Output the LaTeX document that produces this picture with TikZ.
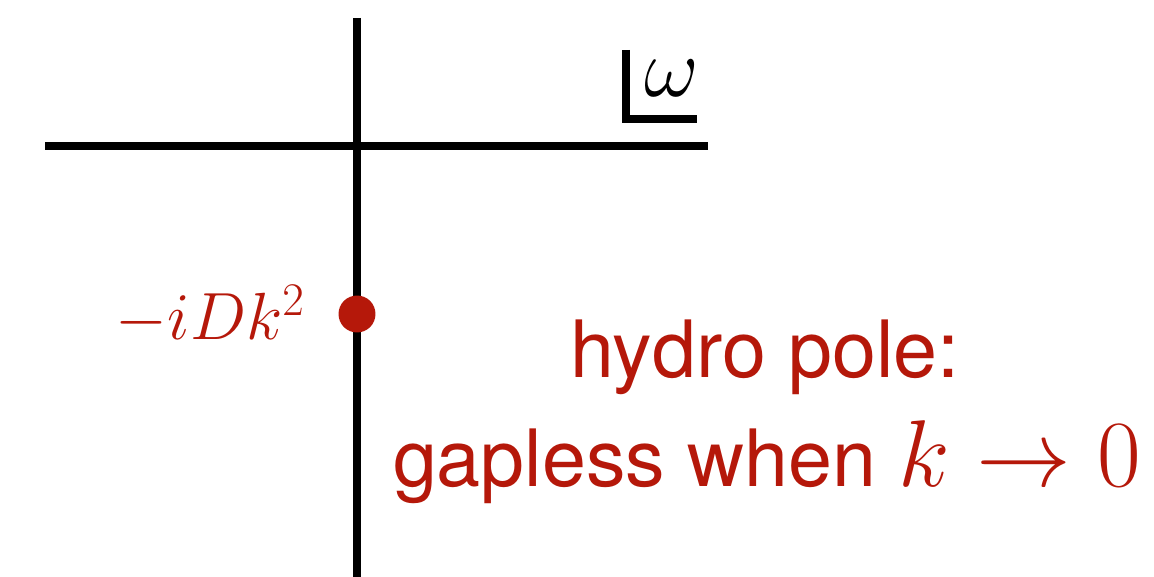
\RequirePackage{fix-cm}
\documentclass[tikz,border=0pt]{standalone}
\usepackage{fontspec}
\setmainfont{TeX Gyre Heros}
\definecolor{polered}{HTML}{B5180A}

\begin{document}
\begin{tikzpicture}[
    x=0.02cm, y=-0.02cm,
    axis/.style={draw=black, line width=4pt},
    corner/.style={draw=black, line width=4pt},
    polept/.style={circle, fill=polered, inner sep=0pt, minimum size=0.74cm},
    lbl/.style={text=polered, font=\fontsize{45}{54}\selectfont, inner sep=0pt},
    mlbl/.style={text=polered, font=\fontsize{38}{46}\selectfont, inner sep=0pt},
  ]
  \useasboundingbox (0,0) rectangle (1154,577);

  % ---- axes of the complex omega plane
  \coordinate (vtop) at (357,18);   \coordinate (vbot) at (357,577);
  \coordinate (hleft) at (45,146);  \coordinate (hright) at (708,146);
  \draw[axis] (vtop) -- (vbot);
  \draw[axis] (hleft) -- (hright);

  % ---- omega label in its corner
  \coordinate (cnrtop) at (626,50);
  \coordinate (cnr) at (626,119);
  \coordinate (cnrend) at (697,119);
  \draw[corner] (cnrtop) -- (cnr) -- (cnrend);
  \node[mlbl, text=black, font=\fontsize{48}{56}\selectfont, anchor=base]
    (omega) at (672,97) {$\omega$};

  % ---- the pole on the imaginary axis
  \node[polept] (pole) at (357,314) {};
  \node[mlbl, anchor=base east] (polelbl) at (305,340) {$-iDk^2$};

  % ---- caption
  \node[lbl, anchor=base] (hydro) at (765,378) {hydro pole:};
  \node[lbl, anchor=base west] (gapless) at (393,487)
    {gapless when {\fontsize{54}{64}\selectfont$k\to0$}};
\end{tikzpicture}
\end{document}
